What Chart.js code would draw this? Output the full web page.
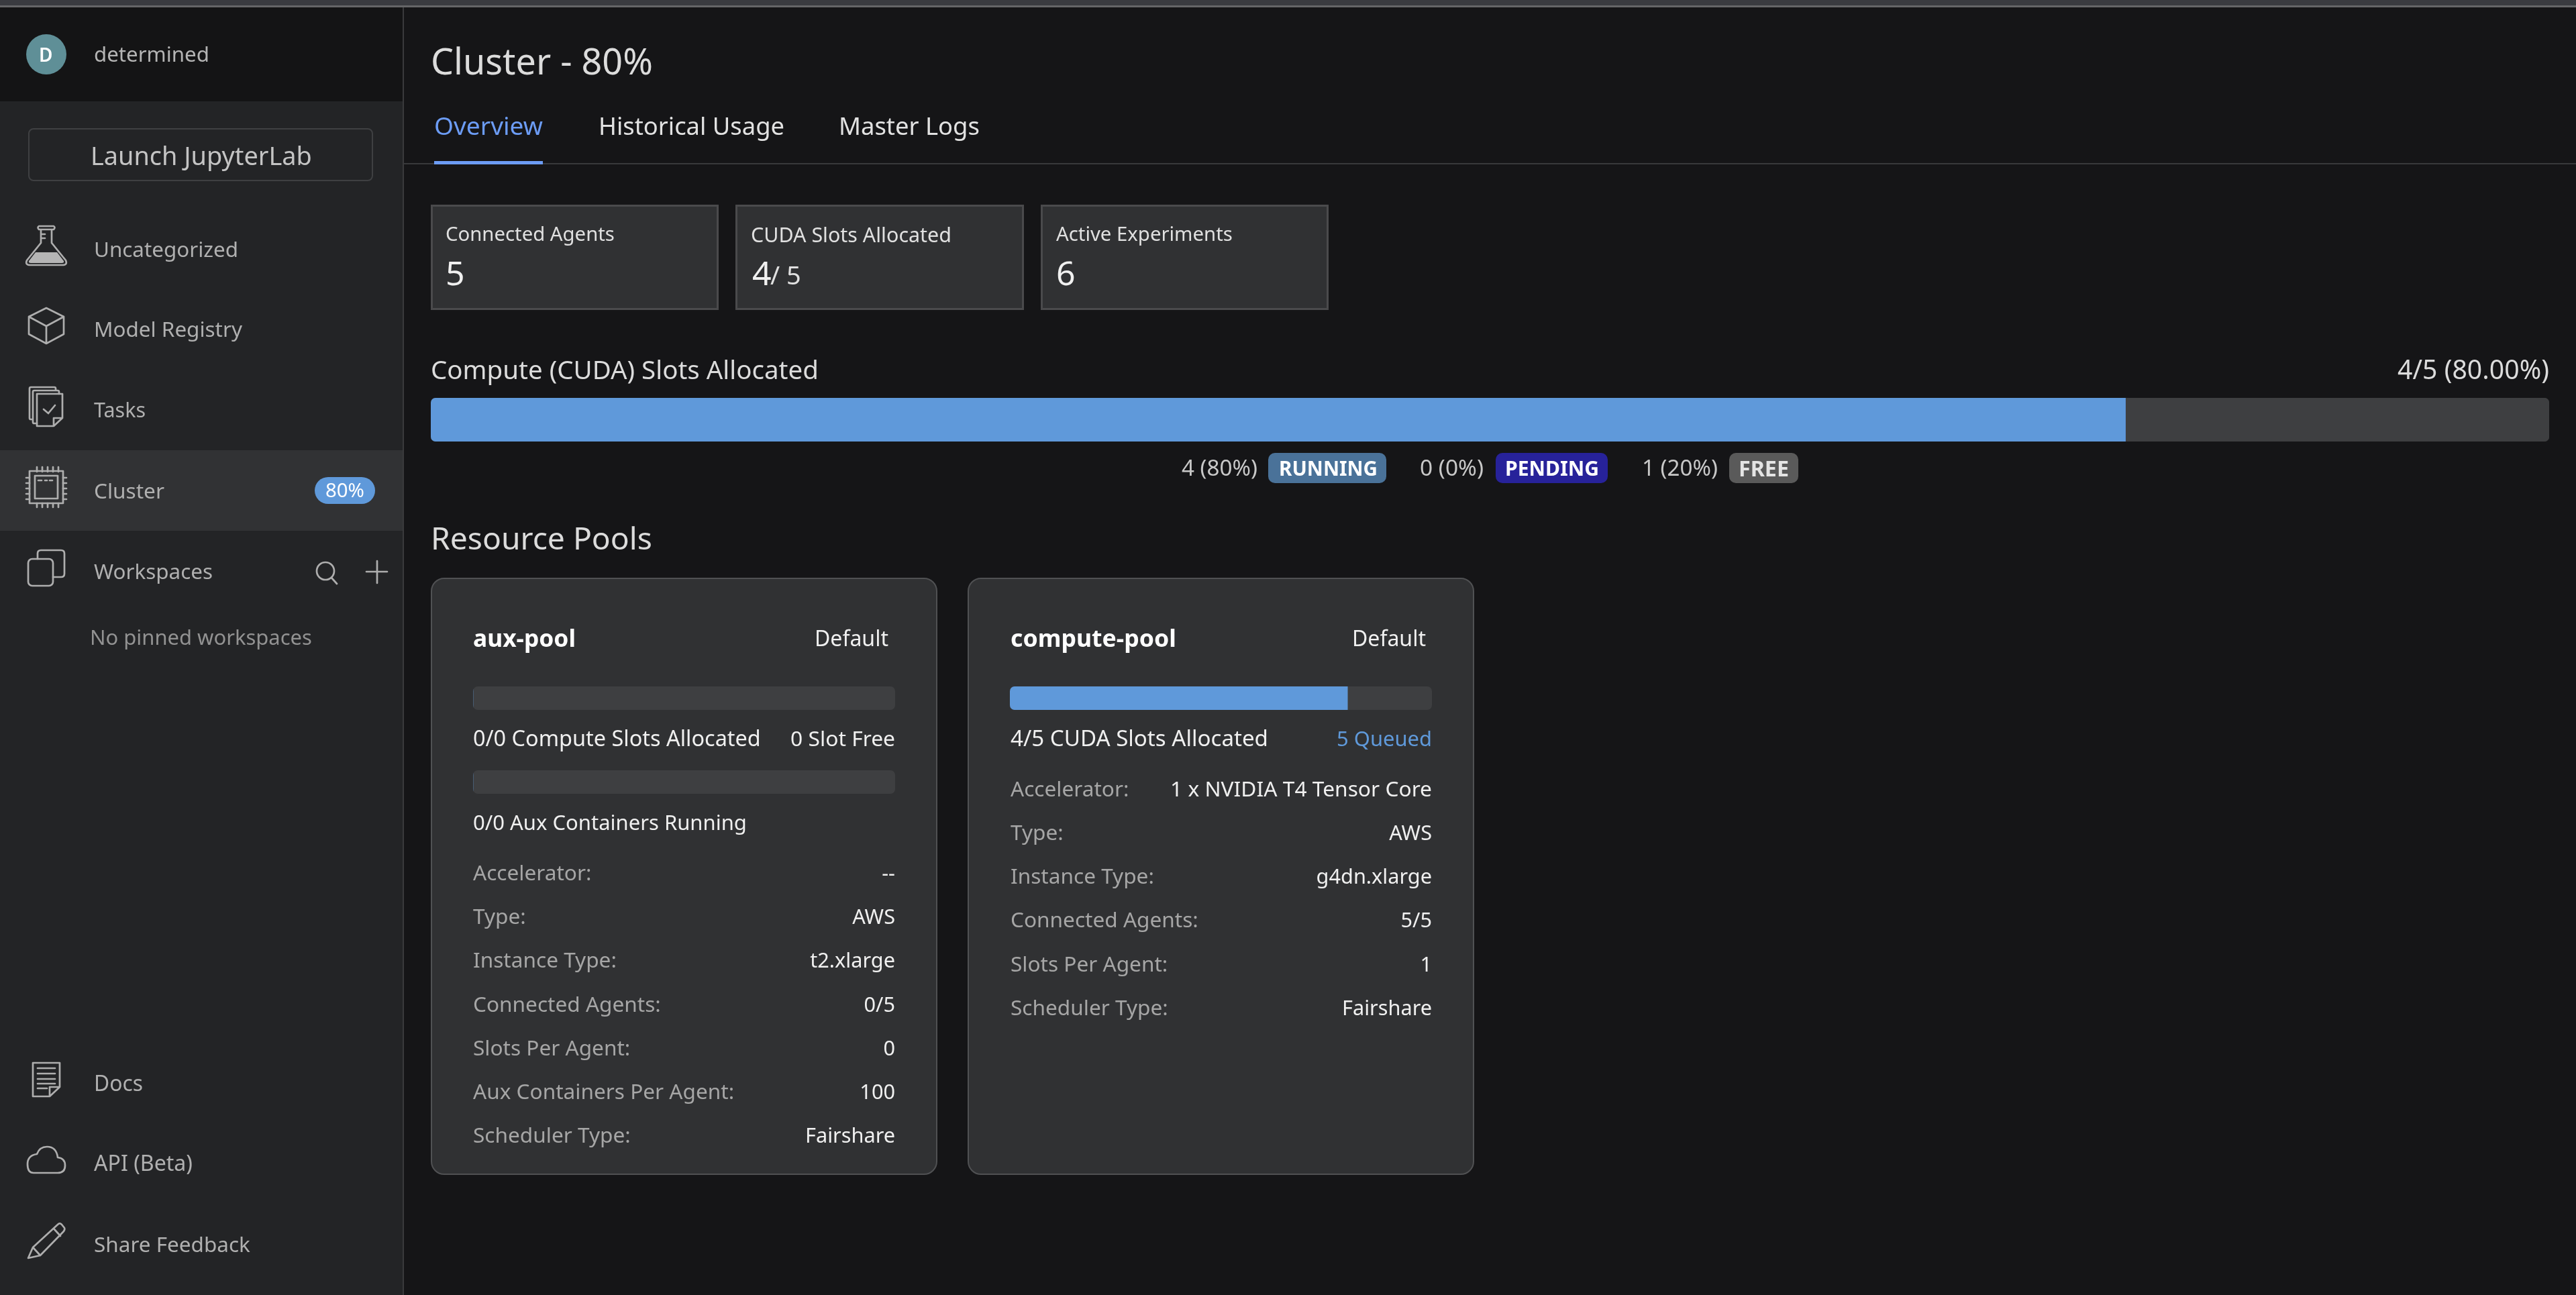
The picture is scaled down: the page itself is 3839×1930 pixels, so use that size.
<!DOCTYPE html>
<html>
<head>
<meta charset="utf-8">
<title>Cluster - 80%</title>
<script src="https://cdn.jsdelivr.net/npm/chart.js@4/dist/chart.umd.min.js"></script>
<style>
  html, body { margin: 0; padding: 0; background: #151517; width: 3839px; height: 1930px; overflow: hidden; }
  body { position: relative; font-family: "Noto Sans", sans-serif; }
  .box { position: absolute; box-sizing: border-box; }
  .t { position: absolute; white-space: pre; line-height: 1; transform: translateY(-50%); }
  .bar { position: absolute; overflow: hidden; border-radius: 7px; background: #3e3f41; }
  .bar canvas { display: block; }
  svg { position: absolute; left: 0; top: 0; }
  svg .i { fill: none; stroke: #aeaeae; stroke-width: 2.7; stroke-linejoin: round; stroke-linecap: round; }
</style>
</head>
<body>
<!-- page shell -->
<div class="box" style="left:0;top:0;width:3839px;height:8px;background:#3a3b40"></div>
<div class="box" style="left:0;top:8px;width:3839px;height:3px;background:#656567"></div>
<div class="box" style="left:0;top:11px;width:600px;height:1919px;background:#232426"></div>
<div class="box" style="left:0;top:11px;width:600px;height:140px;background:#141415"></div>
<div class="box" style="left:600px;top:11px;width:2px;height:1919px;background:#3a3a3c"></div>
<div class="box" style="left:0;top:671px;width:600px;height:120px;background:#313234"></div>
<div class="box" style="left:39px;top:51px;width:60px;height:60px;border-radius:50%;background:#5f8f97"></div>
<div class="box" style="left:42px;top:191px;width:514px;height:79px;border:2px solid #3f4042;border-radius:8px"></div>
<div class="box" style="left:469px;top:711px;width:90px;height:40px;border-radius:20px;background:#5f99da"></div>
<div class="box" style="left:602px;top:243px;width:3237px;height:2px;background:#38393b"></div>
<div class="box" style="left:647px;top:240px;width:162px;height:5px;background:#6c9cf5"></div>

<div class="box" style="left:642px;top:305px;width:429px;height:157px;background:#303133;border:3px solid #4a4a4c"></div>
<div class="box" style="left:1096px;top:305px;width:430px;height:157px;background:#303133;border:3px solid #4a4a4c"></div>
<div class="box" style="left:1551px;top:305px;width:429px;height:157px;background:#303133;border:3px solid #4a4a4c"></div>

<div class="box" style="left:1890px;top:675px;width:176px;height:45px;border-radius:10px;background:#4a7299"></div>
<div class="box" style="left:2229px;top:675px;width:167px;height:45px;border-radius:10px;background:#27229a"></div>
<div class="box" style="left:2577px;top:675px;width:103px;height:45px;border-radius:10px;background:#5a5a5a"></div>

<div class="box" style="left:642px;top:861px;width:755px;height:890px;background:#303133;border:2px solid #505153;border-radius:20px"></div>
<div class="box" style="left:1442px;top:861px;width:755px;height:890px;background:#303133;border:2px solid #505153;border-radius:20px"></div>

<!-- progress bars, drawn by Chart.js -->
<div class="bar" style="left:642px;top:593px;width:3157px;height:65px"><canvas id="slotsBar" width="3157" height="65"></canvas></div>
<div class="bar" style="left:705px;top:1023px;width:629px;height:35px"><canvas id="auxComputeBar" width="629" height="35"></canvas></div>
<div class="bar" style="left:705px;top:1148px;width:629px;height:35px"><canvas id="auxContainerBar" width="629" height="35"></canvas></div>
<div class="bar" style="left:1505px;top:1023px;width:629px;height:35px"><canvas id="computeBar" width="629" height="35"></canvas></div>

<!-- sidebar icons -->
<svg width="3839" height="1930">
  <g class="i">
    <path d="M58 337H80Q83 339 80 342H58Q55 339 58 337ZM61 342V362L40 388Q37 395 45 395H93Q101 395 98 388L77 362V342M61 349H67M61 355H67"/>
    <path d="M53 376H85L95 389Q96 392 92 392H46Q42 392 43 389Z" style="fill:#b5b5b5;stroke:none"/>
    <path d="M69 459L95 472V498L69 512L43 498V472ZM43 472L69 486L95 472M69 486V512"/>
    <path d="M55 587H93V623L80 635H55ZM80 635V623H93M65 610L72 616L82 604"/>
    <path d="M55 631H51Q49 631 49 629V584Q49 582 51 582H86Q88 582 88 584V587M49 625H46Q44 625 44 623V579Q44 577 46 577H81Q83 577 83 579V582"/>
    <path d="M44 702H94V750H44ZM52 709H86V743H52Z"/>
    <path d="M55 703V696M63 703V696M71 703V696M79 703V696M87 703V696M55 750V756M63 750V756M71 750V756M79 750V756M87 750V756M44 712H39M44 720H39M44 728H39M44 736H39M44 744H39M94 712H99M94 720H99M94 728H99M94 736H99M94 744H99M57 716H62M67 716H70M74 716H78"/>
    <rect x="42" y="833" width="37" height="40" rx="6"/>
    <path d="M56 833V825Q56 820 61 820H91Q96 820 96 825V855Q96 860 91 860H79"/>
    <circle cx="485" cy="851" r="13"/>
    <path d="M494 861L502 870M546 852H577M562 836V869"/>
    <path d="M89 1620V1584H49V1634H74L89 1620H74V1634M56 1592H82M56 1600H82M56 1608H82M56 1615H82M56 1622H70"/>
    <path d="M50 1748H86Q97 1748 97 1737Q97 1726 86 1725Q84 1709 70 1709Q59 1709 55 1720Q41 1722 41 1735Q41 1748 50 1748Z"/>
    <path d="M42 1875L49 1859L86 1825Q89 1822 92 1825L96 1830Q97 1832 95 1835L60 1871ZM49 1859L60 1871M80 1831L90 1842"/>
  </g>
</svg>

<script>
// top level numbers
var slotStates = ['RUNNING', 'PENDING', 'FREE'];
var slotCounts = [4, 0, 1];
var slotPercents = ['4 (80%)', '0 (0%)', '1 (20%)'];
var slotTotal = 5;

var auxComputeUsed = [0];
var auxComputeTotal = 0;
var auxContainerUsed = [0];
var auxContainerTotal = 0;
var computeUsed = [4];
var computeTotal = 5;

var navTop = ['Uncategorized', 'Model Registry', 'Tasks', 'Cluster', 'Workspaces'];
var navBottom = ['Docs', 'API (Beta)', 'Share Feedback'];
var tabs = ['Overview', 'Historical Usage', 'Master Logs'];
var kpiLabels = ['Connected Agents', 'CUDA Slots Allocated', 'Active Experiments'];

var auxRowLabels = ['Accelerator:', 'Type:', 'Instance Type:', 'Connected Agents:', 'Slots Per Agent:', 'Aux Containers Per Agent:', 'Scheduler Type:'];
var auxRowValues = ['--', 'AWS', 't2.xlarge', '0/5', '0', '100', 'Fairshare'];
var computeRowLabels = ['Accelerator:', 'Type:', 'Instance Type:', 'Connected Agents:', 'Slots Per Agent:', 'Scheduler Type:'];
var computeRowValues = ['1 x NVIDIA T4 Tensor Core', 'AWS', 'g4dn.xlarge', '5/5', '1', 'Fairshare'];

var BLUE = '#5f99da';
var TRACK = '#3e3f41';

// font size that makes a string come out at the width seen in the reference
var meter = document.createElement('canvas').getContext('2d');
function fit(str, width, weight) {
  meter.font = (weight || 400) + ' 100px "Noto Sans"';
  return 100 * width / meter.measureText(str).width;
}

function put(str, x, y, size, color, weight, alignRight) {
  var el = document.createElement('div');
  el.className = 't';
  el.textContent = str;
  el.style.top = y + 'px';
  if (alignRight) el.style.right = (3839 - x) + 'px';
  else el.style.left = x + 'px';
  el.style.fontSize = size + 'px';
  el.style.color = color;
  el.style.fontWeight = weight || 400;
  document.body.appendChild(el);
}

function putFit(str, x, y, width, color, weight, alignRight) {
  put(str, x, y, fit(str, width, weight), color, weight, alignRight);
}

function makeBar(id, labels, values, colors, total) {
  new Chart(document.getElementById(id), {
    type: 'bar',
    data: {
      labels: [''],
      datasets: values.map(function (v, i) {
        return { label: labels[i], data: [v], backgroundColor: colors[i], borderWidth: 0, barPercentage: 1, categoryPercentage: 1 };
      })
    },
    options: {
      indexAxis: 'y',
      responsive: false,
      animation: false,
      devicePixelRatio: 1,
      layout: { padding: 0 },
      plugins: { legend: { display: false }, tooltip: { enabled: false } },
      scales: {
        x: { display: false, stacked: true, min: 0, max: total || 1 },
        y: { display: false, stacked: true }
      }
    }
  });
}

makeBar('slotsBar', slotStates, slotCounts, [BLUE, '#27229a', TRACK], slotTotal);
makeBar('auxComputeBar', ['used'], auxComputeUsed, [BLUE], auxComputeTotal);
makeBar('auxContainerBar', ['used'], auxContainerUsed, [BLUE], auxContainerTotal);
makeBar('computeBar', ['used'], computeUsed, [BLUE], computeTotal);

// Sidebar
put('D', 58, 81, 28, '#ffffff', 600);
putFit('determined', 140, 81, 172, '#b4b4b4');
putFit('Launch JupyterLab', 135, 232, 330, '#c4c4c4');
var navGrey = '#b0b0b0';
var navY = [371, 490, 610, 731, 851];
var navW = [215, 221, 77, 105, 177];
navTop.forEach(function (s, i) { putFit(s, 140, navY[i], navW[i], navGrey); });
putFit('80%', 485, 731, 58, '#ffffff');
putFit('No pinned workspaces', 134, 949, 331, '#929292');
var navBottomY = [1614, 1733, 1854];
var navBottomW = [73, 147, 233];
navBottom.forEach(function (s, i) { putFit(s, 140, navBottomY[i], navBottomW[i], navGrey); });

// Header
putFit('Cluster - 80%', 642, 91, 331, '#dcdcdc');
var tabX = [647, 892, 1250];
var tabW = [162, 277, 210];
tabs.forEach(function (s, i) { putFit(s, tabX[i], 187, tabW[i], i === 0 ? '#6c9cf5' : '#e2e2e2'); });

// KPI cards
var kpiX = [664, 1119, 1574];
var kpiW = [252, 299, 263];
kpiLabels.forEach(function (s, i) { putFit(s, kpiX[i], 349, kpiW[i], '#e0e0e0'); });
put('5', 664, 406, 50, '#f0f0f0');
put('4', 1121, 406, 50, '#f0f0f0');
put('/ 5', 1148, 409, 38, '#e0e0e0');
put('6', 1574, 406, 50, '#f0f0f0');

// Overall allocation
putFit('Compute (CUDA) Slots Allocated', 642, 550, 578, '#dcdcdc');
putFit('4/5 (80.00%)', 3799, 550, 226, '#dcdcdc', 400, true);
var legendX = [1761, 2116, 2447];
var legendW = [113, 95, 113];
slotPercents.forEach(function (s, i) { putFit(s, legendX[i], 697, legendW[i], '#c8c8c8'); });
var badgeX = [1906, 2243, 2591];
var badgeW = [147, 140, 75];
slotStates.forEach(function (s, i) { putFit(s, badgeX[i], 698, badgeW[i], i === 2 ? '#e4e4e4' : '#ffffff', 700); });

// Resource pools
putFit('Resource Pools', 642, 802, 330, '#dcdcdc');

var rowGrey = '#a6a6a6';
var valueWhite = '#f0f0f0';
var labelSize = fit('Connected Agents:', 280);
var valueSize = fit('Fairshare', 134);

function poolRows(labels, values, left, right, firstY) {
  labels.forEach(function (s, i) {
    put(s, left, firstY + i * 65.2, labelSize, rowGrey);
    put(values[i], right, firstY + i * 65.2, valueSize, valueWhite, 400, true);
  });
}

putFit('aux-pool', 705, 951, 153, '#ffffff', 700);
putFit('Default', 1214, 951, 110, valueWhite);
putFit('0/0 Compute Slots Allocated', 705, 1100, 429, valueWhite);
putFit('0 Slot Free', 1334, 1100, 156, valueWhite, 400, true);
putFit('0/0 Aux Containers Running', 705, 1225, 408, valueWhite);
poolRows(auxRowLabels, auxRowValues, 705, 1334, 1300);

putFit('compute-pool', 1506, 951, 247, '#ffffff', 700);
putFit('Default', 2015, 951, 110, valueWhite);
putFit('4/5 CUDA Slots Allocated', 1506, 1100, 384, valueWhite);
putFit('5 Queued', 2134, 1100, 142, BLUE, 400, true);
poolRows(computeRowLabels.slice(1), computeRowValues.slice(1), 1506, 2134, 1240);
put(computeRowLabels[0], 1506, 1175, labelSize, rowGrey);
putFit(computeRowValues[0], 2134, 1175, 390, valueWhite, 400, true);
</script>
</body>
</html>
